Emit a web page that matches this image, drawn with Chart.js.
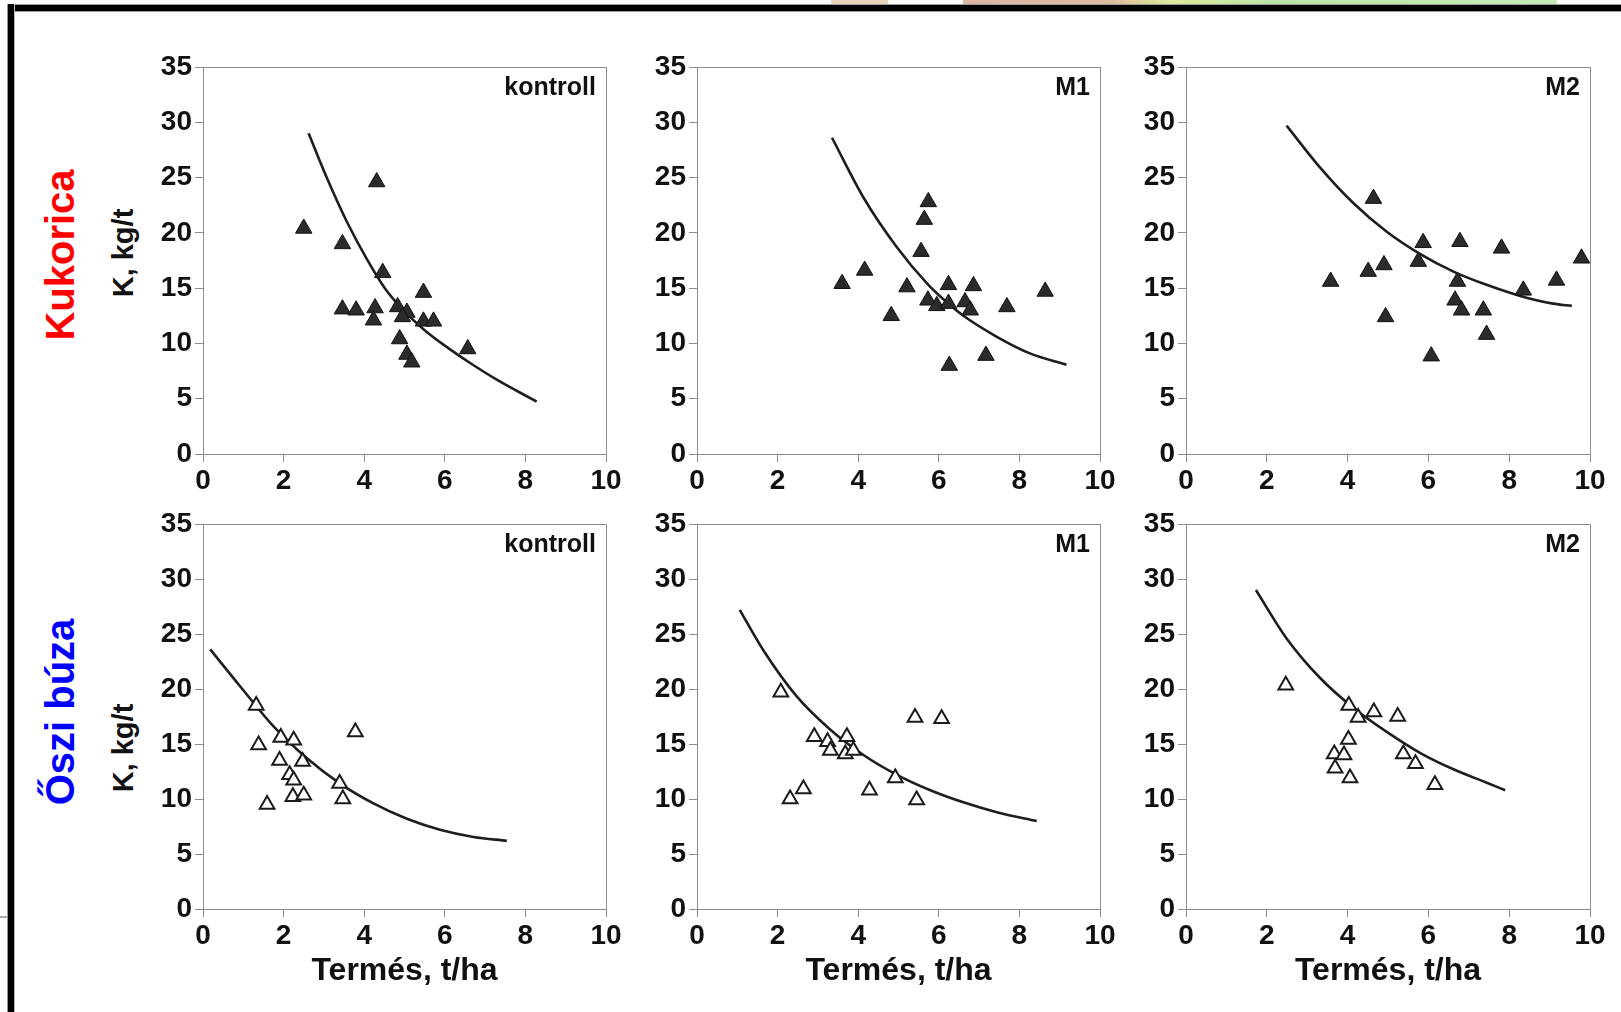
<!DOCTYPE html>
<html lang="hu">
<head>
<meta charset="UTF-8">
<title>K, kg/t – Termés, t/ha</title>
<script src="https://cdn.jsdelivr.net/npm/chart.js"></script>
<style>
  body {
    margin: 0;
    width: 1621px;
    height: 1012px;
    position: relative;
    overflow: hidden;
    background: #fff;
    font-family: "Liberation Sans", Arial, sans-serif;
  }
  .rot {
    position: absolute;
    transform: translate(-50%, -50%) rotate(-90deg);
    white-space: nowrap;
    font-weight: bold;
  }
  .row-label { font-size: 40px; line-height: 40px; }
  .y-title { font-size: 29px; line-height: 29px; color: #111; }
  canvas { position: absolute; }
</style>
</head>
<body>
<!-- scrap of the page above and the black frame -->
<div style="position:absolute;left:831px;top:0;width:57px;height:4px;background:rgba(214,176,130,0.55)"></div>
<div style="position:absolute;left:963px;top:0;width:594px;height:4px;background:linear-gradient(to right, rgba(205,150,128,0.7) 0%, rgba(210,160,120,0.7) 25%, rgba(205,225,110,0.7) 35%, rgba(160,218,130,0.7) 52%, rgba(160,222,135,0.6) 100%)"></div>
<div style="position:absolute;left:7px;top:4px;right:0;height:6px;background:#000;border-top:1px solid #999;border-bottom:1px solid #999"></div>
<div style="position:absolute;left:7px;top:4px;bottom:0;width:6px;background:#000;border-left:1px solid #999;border-right:1px solid #bbb"></div>
<div style="position:absolute;left:0;top:916px;width:7px;height:2px;background:#aaa"></div>

<div class="rot row-label" style="left:60px;top:255px;color:#ff0000">Kukorica</div>
<div class="rot row-label" style="left:60px;top:712px;color:#0000ff">Őszi búza</div>
<div class="rot y-title" style="left:123px;top:253px">K, kg/t</div>
<div class="rot y-title" style="left:123px;top:748px">K, kg/t</div>

<script>
// Kukorica (maize) - filled triangles
const kukKontrollX = [2.50, 4.31, 3.46, 4.46, 5.47, 3.46, 3.80, 4.27, 4.23, 4.83, 5.06, 4.95, 5.47, 5.72, 4.88, 5.06, 5.18, 6.57];
const kukKontrollY = [20.4, 24.6, 19.0, 16.4, 14.6, 13.1, 13.0, 13.2, 12.1, 13.3, 12.8, 12.4, 12.0, 12.0, 10.4, 9.0, 8.3, 9.5];
const kukKontrollFitX = [2.62, 3.07, 3.57, 4.07, 4.53, 5.0, 5.5, 6.0, 6.6, 7.3, 8.28];
const kukKontrollFitY = [29.0, 25.0, 21.0, 17.6, 14.9, 12.9, 11.2, 9.8, 8.3, 6.7, 4.74];

const kukM1X = [3.60, 4.16, 4.82, 5.21, 5.56, 5.64, 5.74, 5.73, 5.95, 6.24, 6.24, 6.26, 6.65, 6.78, 6.86, 7.17, 7.69, 8.64];
const kukM1Y = [15.4, 16.6, 12.5, 15.1, 18.3, 21.2, 22.8, 13.9, 13.4, 13.6, 15.3, 8.0, 13.75, 13.0, 15.2, 8.9, 13.3, 14.7];
const kukM1FitX = [3.35, 4.13, 4.96, 5.74, 6.3, 6.61, 7.44, 8.26, 9.17];
const kukM1FitY = [28.6, 23.2, 18.7, 15.3, 13.4, 12.5, 10.6, 9.1, 8.07];

const kukM2X = [3.58, 4.64, 4.51, 4.90, 4.94, 5.87, 5.75, 6.07, 6.72, 6.66, 6.82, 6.78, 7.36, 7.44, 7.81, 8.35, 9.17, 9.79];
const kukM2Y = [15.6, 23.1, 16.5, 17.1, 12.4, 19.1, 17.4, 8.85, 15.6, 13.9, 13.0, 19.2, 13.0, 10.8, 18.6, 14.8, 15.7, 17.7];
const kukM2FitX = [2.49, 3.32, 4.14, 4.97, 5.79, 6.62, 7.44, 8.27, 9.09, 9.55];
const kukM2FitY = [29.7, 25.9, 22.7, 20.1, 18.1, 16.5, 15.3, 14.3, 13.6, 13.4];

// Őszi búza (winter wheat) - open triangles
const buzaKontrollX = [1.32, 1.38, 1.59, 1.93, 2.25, 1.90, 2.47, 2.15, 2.25, 2.23, 2.50, 3.39, 3.47, 3.78];
const buzaKontrollY = [18.5, 14.9, 9.5, 15.6, 15.35, 13.5, 13.4, 12.2, 11.7, 10.2, 10.35, 11.4, 10.0, 16.1];
const buzaKontrollFitX = [0.18, 0.93, 1.75, 2.58, 3.40, 4.23, 5.06, 5.88, 6.71, 7.54];
const buzaKontrollFitY = [23.6, 20.2, 16.6, 13.7, 11.4, 9.6, 8.2, 7.2, 6.55, 6.2];

const buzaM1X = [2.08, 2.31, 2.64, 2.91, 3.24, 3.31, 3.72, 3.68, 3.88, 4.28, 4.92, 5.41, 5.45, 6.07];
const buzaM1Y = [19.7, 10.0, 10.9, 15.65, 15.2, 14.4, 15.65, 14.1, 14.4, 10.8, 11.9, 17.4, 9.9, 17.3];
const buzaM1FitX = [1.06, 1.65, 2.48, 3.31, 4.13, 4.96, 5.79, 6.61, 7.44, 8.43];
const buzaM1FitY = [27.2, 23.5, 19.3, 16.3, 14.0, 12.2, 10.8, 9.7, 8.8, 8.0];

const buzaM2X = [2.47, 4.03, 4.26, 4.65, 5.24, 4.02, 3.67, 3.91, 3.69, 4.06, 5.38, 5.68, 6.16];
const buzaM2Y = [20.35, 18.5, 17.4, 17.9, 17.5, 15.4, 14.1, 14.0, 12.8, 11.9, 14.1, 13.2, 11.3];
const buzaM2FitX = [1.73, 2.49, 3.32, 4.14, 4.97, 5.79, 6.62, 7.43, 7.90];
const buzaM2FitY = [29.0, 24.6, 21.0, 18.3, 16.1, 14.2, 12.7, 11.5, 10.8];

const panelLabels = ['kontroll', 'M1', 'M2'];
const xTitle = 'Termés, t/ha';

const FONT = '"Liberation Sans", Arial, sans-serif';
const axisGray = '#8c8c8c';
Chart.defaults.font.family = FONT;

// layout of the 2x3 grid (plot area edges in page pixels)
const colLeft = [203, 697, 1186];
const colWidth = [403, 403, 404];
const rowTop = [67, 524];
const rowHeight = [387, 385];
const rowAxisH = [50, 92];
const padL = 70, padT = 20, padR = 25;

const framePlugin = {
    id: 'frame',
    afterDraw(chart, args, opts) {
        const { ctx, chartArea: a } = chart;
        ctx.save();
        ctx.strokeStyle = axisGray;
        ctx.lineWidth = 1;
        ctx.strokeRect(Math.round(a.left) + 0.5, Math.round(a.top) + 0.5,
            Math.round(a.right - a.left), Math.round(a.bottom - a.top));
        ctx.fillStyle = '#111';
        ctx.font = 'bold 25px ' + FONT;
        ctx.textAlign = 'right';
        ctx.textBaseline = 'alphabetic';
        ctx.fillText(opts.label, a.right - 10, a.top + 28);
        ctx.restore();
    }
};

function toPoints(xs, ys) {
    return xs.map((x, i) => ({ x: x, y: ys[i] }));
}

function makePanel(row, col, xs, ys, fitX, fitY) {
    const W = padL + colWidth[col] + padR;
    const H = padT + rowHeight[row] + rowAxisH[row];
    const canvas = document.createElement('canvas');
    canvas.width = W;
    canvas.height = H;
    canvas.style.left = (colLeft[col] - padL) + 'px';
    canvas.style.top = (rowTop[row] - padT) + 'px';
    canvas.style.width = W + 'px';
    canvas.style.height = H + 'px';
    document.body.appendChild(canvas);

    const filled = row === 0;
    const tickFont = { size: 28, weight: 'bold', family: FONT };

    new Chart(canvas.getContext('2d'), {
        type: 'scatter',
        data: {
            datasets: [
                {
                    data: toPoints(xs, ys),
                    pointStyle: 'triangle',
                    pointRadius: filled ? 9.5 : 8.5,
                    backgroundColor: filled ? '#2b2b2b' : '#ffffff',
                    borderColor: filled ? '#111' : '#1a1a1a',
                    borderWidth: filled ? 1 : 2,
                    order: 0,
                    clip: false
                },
                {
                    type: 'line',
                    data: toPoints(fitX, fitY),
                    showLine: true,
                    borderColor: '#1e1e1e',
                    borderWidth: 2.6,
                    pointRadius: 0,
                    cubicInterpolationMode: 'monotone',
                    fill: false,
                    order: 1
                }
            ]
        },
        options: {
            responsive: false,
            animation: false,
            events: [],
            layout: { padding: { left: 0, top: padT, right: padR, bottom: 0 }, autoPadding: false },
            plugins: {
                legend: { display: false },
                tooltip: { enabled: false },
                frame: { label: panelLabels[col] }
            },
            scales: {
                x: {
                    type: 'linear',
                    min: 0,
                    max: 10,
                    ticks: { stepSize: 2, color: '#111', font: tickFont, padding: 2, maxRotation: 0 },
                    grid: { drawOnChartArea: false, tickLength: 8, color: axisGray },
                    border: { color: axisGray },
                    title: {
                        display: row === 1,
                        text: xTitle,
                        color: '#111',
                        font: { size: 32, weight: 'bold', family: FONT },
                        padding: { top: 0, bottom: 11 }
                    },
                    afterFit: s => { s.height = rowAxisH[row]; }
                },
                y: {
                    type: 'linear',
                    min: 0,
                    max: 35,
                    ticks: { stepSize: 5, color: '#111', font: tickFont, padding: 3 },
                    grid: { drawOnChartArea: false, tickLength: 8, color: axisGray },
                    border: { color: axisGray },
                    afterFit: s => { s.width = padL; }
                }
            }
        },
        plugins: [framePlugin]
    });
}

makePanel(0, 0, kukKontrollX, kukKontrollY, kukKontrollFitX, kukKontrollFitY);
makePanel(0, 1, kukM1X, kukM1Y, kukM1FitX, kukM1FitY);
makePanel(0, 2, kukM2X, kukM2Y, kukM2FitX, kukM2FitY);
makePanel(1, 0, buzaKontrollX, buzaKontrollY, buzaKontrollFitX, buzaKontrollFitY);
makePanel(1, 1, buzaM1X, buzaM1Y, buzaM1FitX, buzaM1FitY);
makePanel(1, 2, buzaM2X, buzaM2Y, buzaM2FitX, buzaM2FitY);
</script>
</body>
</html>
